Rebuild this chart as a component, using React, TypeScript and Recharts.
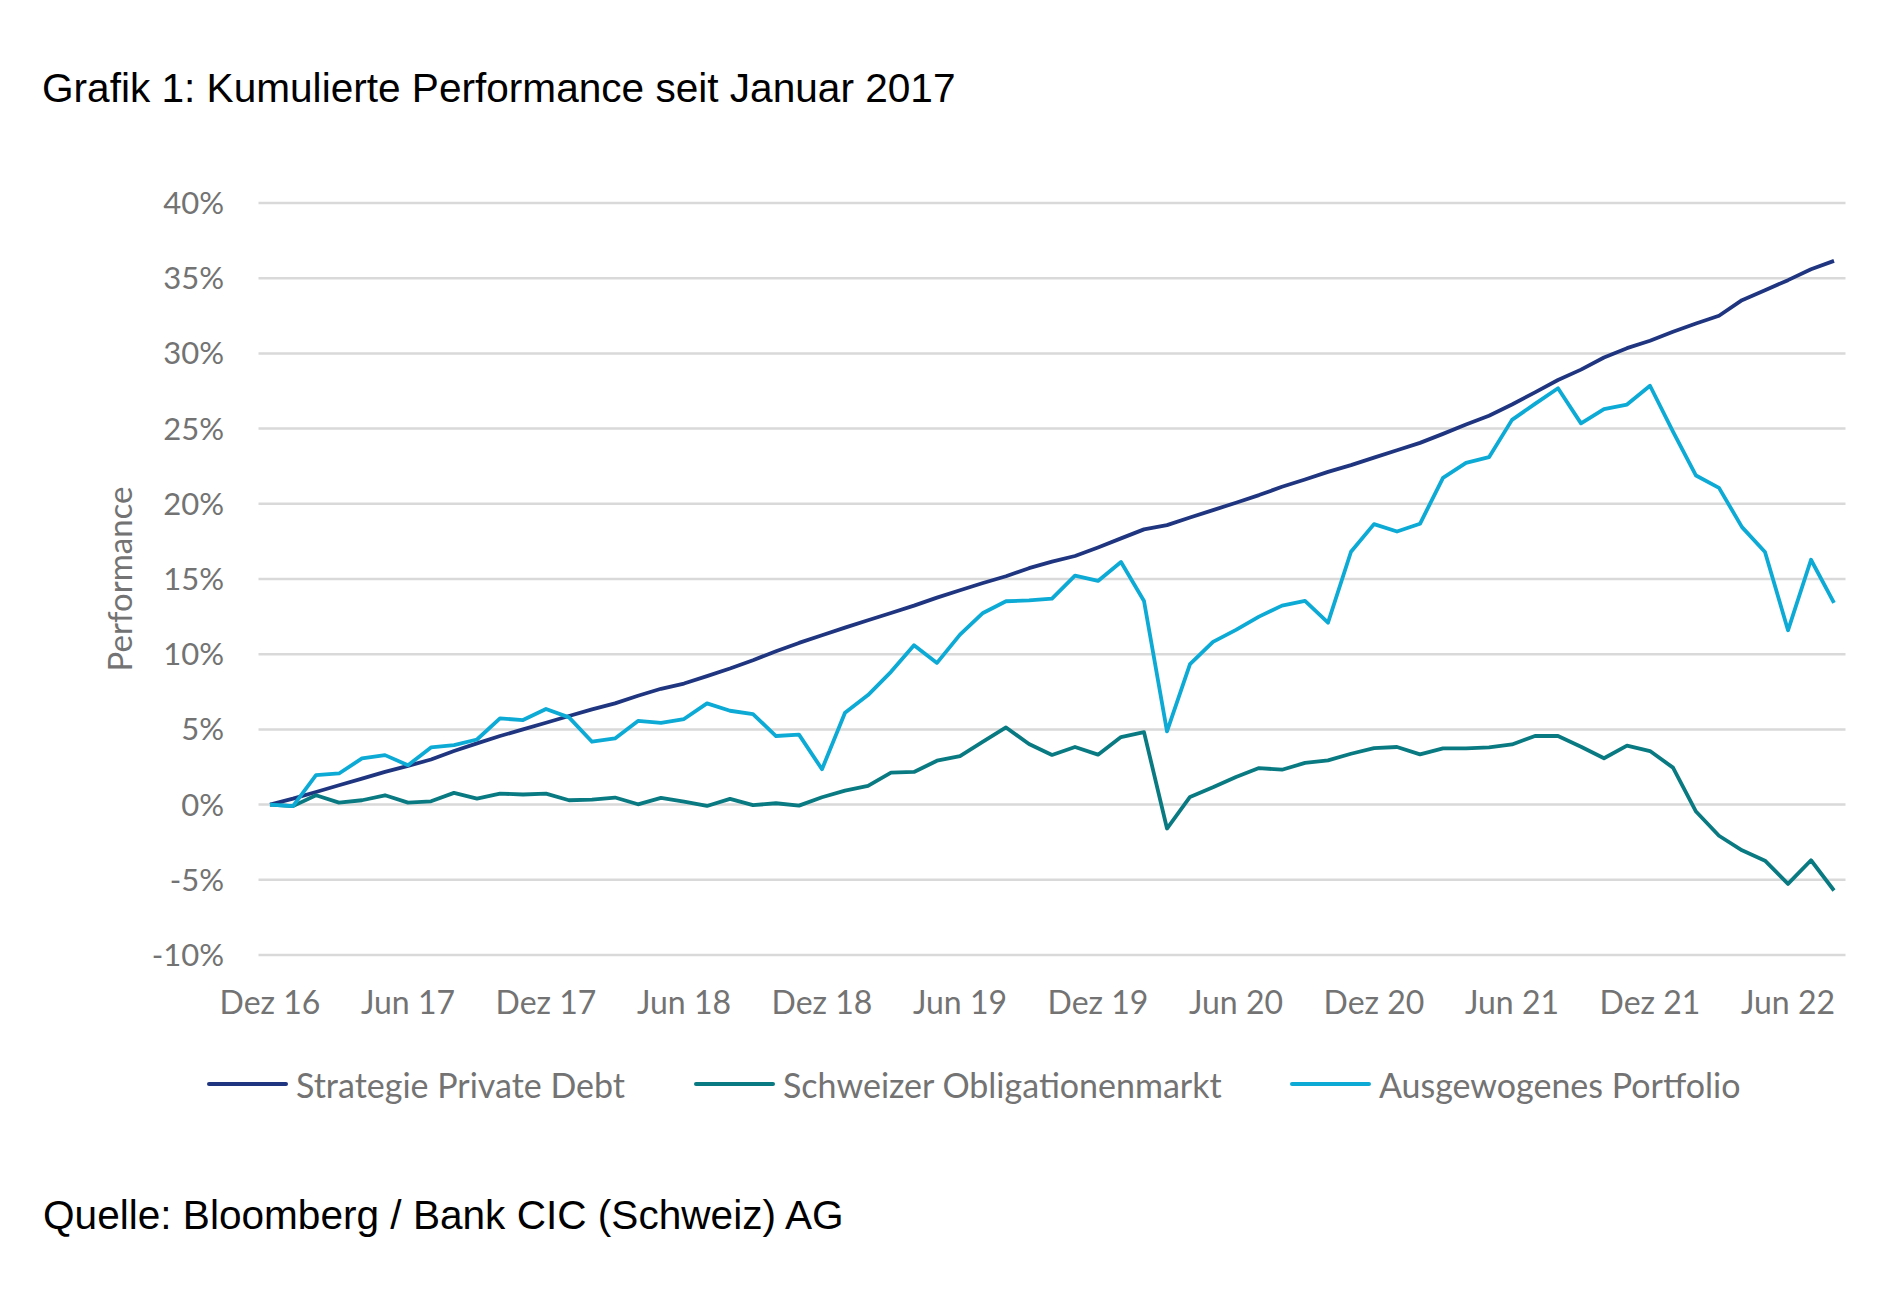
import React from "react";
import { LineChart, Line, XAxis, YAxis, CartesianGrid, Legend } from "recharts";

const TITLE = "Grafik 1: Kumulierte Performance seit Januar 2017";
const SOURCE = "Quelle: Bloomberg / Bank CIC (Schweiz) AG";
const Y_LABEL = "Performance";

const months = [
  "Dez 16",
  "Jan 17", "Feb 17", "Mär 17", "Apr 17", "Mai 17", "Jun 17", "Jul 17", "Aug 17", "Sep 17", "Okt 17", "Nov 17", "Dez 17",
  "Jan 18", "Feb 18", "Mär 18", "Apr 18", "Mai 18", "Jun 18", "Jul 18", "Aug 18", "Sep 18", "Okt 18", "Nov 18", "Dez 18",
  "Jan 19", "Feb 19", "Mär 19", "Apr 19", "Mai 19", "Jun 19", "Jul 19", "Aug 19", "Sep 19", "Okt 19", "Nov 19", "Dez 19",
  "Jan 20", "Feb 20", "Mär 20", "Apr 20", "Mai 20", "Jun 20", "Jul 20", "Aug 20", "Sep 20", "Okt 20", "Nov 20", "Dez 20",
  "Jan 21", "Feb 21", "Mär 21", "Apr 21", "Mai 21", "Jun 21", "Jul 21", "Aug 21", "Sep 21", "Okt 21", "Nov 21", "Dez 21",
  "Jan 22", "Feb 22", "Mär 22", "Apr 22", "Mai 22", "Jun 22", "Jul 22", "Aug 22",
];

const privateDebt = [
  0, 0.4, 0.84, 1.29, 1.73, 2.18, 2.58, 3.0, 3.56, 4.07,
  4.56, 5.0, 5.44, 5.89, 6.33, 6.73, 7.24, 7.7, 8.05, 8.54,
  9.05, 9.6, 10.2, 10.75, 11.26, 11.77, 12.26, 12.74, 13.23, 13.76,
  14.25, 14.73, 15.18, 15.72, 16.15, 16.53, 17.1, 17.7, 18.3, 18.58,
  19.09, 19.58, 20.07, 20.58, 21.13, 21.62, 22.12, 22.57, 23.07, 23.56,
  24.05, 24.65, 25.27, 25.86, 26.6, 27.41, 28.23, 28.92, 29.73, 30.35,
  30.84, 31.44, 31.99, 32.5, 33.54, 34.2, 34.87, 35.6, 36.15,
];

const swissBonds = [
  0, -0.1, 0.62, 0.13, 0.29, 0.62, 0.13, 0.22, 0.78, 0.4,
  0.73, 0.67, 0.73, 0.29, 0.33, 0.47, 0.02, 0.45, 0.2, -0.09,
  0.38, -0.04, 0.09, -0.07, 0.49, 0.93, 1.24, 2.12, 2.17, 2.92,
  3.23, 4.18, 5.13, 4.03, 3.3, 3.83, 3.32, 4.49, 4.82, -1.59,
  0.51, 1.15, 1.84, 2.43, 2.32, 2.77, 2.94, 3.38, 3.76, 3.83,
  3.34, 3.74, 3.74, 3.81, 4.0, 4.56, 4.56, 3.85, 3.08, 3.92,
  3.56, 2.46, -0.46, -2.07, -3.04, -3.73, -5.27, -3.7, -5.71,
];

const balanced = [
  0, -0.1, 1.96, 2.07, 3.07, 3.29, 2.62, 3.8, 3.96, 4.33,
  5.73, 5.62, 6.36, 5.8, 4.18, 4.4, 5.56, 5.44, 5.69, 6.73,
  6.24, 6.02, 4.56, 4.65, 2.35, 6.11, 7.28, 8.83, 10.6, 9.42,
  11.3, 12.74, 13.52, 13.58, 13.7, 15.22, 14.87, 16.13, 13.54, 4.87,
  9.34, 10.82, 11.62, 12.5, 13.23, 13.54, 12.1, 16.81, 18.65, 18.16,
  18.67, 21.73, 22.72, 23.1, 25.58, 26.64, 27.68, 25.35, 26.3, 26.6,
  27.85, 24.8, 21.88, 21.06, 18.45, 16.8, 11.59, 16.28, 13.41,
];

const yTicks = [-10, -5, 0, 5, 10, 15, 20, 25, 30, 35, 40];

const seriesDefs = [
  { key: "privateDebt", name: "Strategie Private Debt", color: "#1F3580" },
  { key: "swissBonds", name: "Schweizer Obligationenmarkt", color: "#0A7A82" },
  { key: "balanced", name: "Ausgewogenes Portfolio", color: "#0CAAD5" },
];

const data = months.map((m, i) => ({
  month: m,
  privateDebt: privateDebt[i],
  swissBonds: swissBonds[i],
  balanced: balanced[i],
}));

const FONT = "Lato, 'Open Sans', sans-serif";
const GRAY = "#737373";
const legendItemWidths = [487, 596, 460];

const renderLegend = () => (
  <div
    style={{
      display: "flex",
      alignItems: "center",
      fontFamily: FONT,
      fontSize: 34,
      color: GRAY,
      whiteSpace: "nowrap",
      height: 40,
    }}
  >
    {seriesDefs.map((s, idx) => (
      <div key={s.key} style={{ display: "flex", alignItems: "center", width: legendItemWidths[idx] }}>
        <div style={{ width: 81, height: 4, background: s.color, borderRadius: 2, marginRight: 8 }} />
        <span>{s.name}</span>
      </div>
    ))}
  </div>
);

const YLabel = (props: any) => {
  const vb = props.viewBox || {};
  const x = vb.x + 13;
  const y = vb.y + vb.height / 2;
  return (
    <text
      x={x}
      y={y}
      transform={`rotate(-90, ${x}, ${y})`}
      textAnchor="middle"
      fill={GRAY}
      fontFamily={FONT}
      fontSize={33}
    >
      {Y_LABEL}
    </text>
  );
};

export default function App() {
  return (
    <div
      style={{
        position: "relative",
        width: 1890,
        height: 1300,
        margin: -8,
        background: "#ffffff",
        overflow: "hidden",
      }}
    >
      <div
        style={{
          position: "absolute",
          left: 42,
          top: 68,
          fontFamily: "'Liberation Sans', Arial, sans-serif",
          fontSize: 40.6,
          lineHeight: 1,
          color: "#000",
          whiteSpace: "nowrap",
        }}
      >
        {TITLE}
      </div>
      <div style={{ position: "absolute", left: 0, top: 0 }}>
        <LineChart
          width={1890}
          height={1300}
          data={data}
          margin={{ top: 203, right: 44.5, bottom: 285, left: 118.5 }}
        >
          <CartesianGrid vertical={false} stroke="#D9D9D9" strokeWidth={2.5} />
          <XAxis
            dataKey="month"
            interval={5}
            axisLine={false}
            tickLine={false}
            tickSize={0}
            tickMargin={36}
            height={60}
            padding={{ left: 11.5, right: 11.5 }}
            tick={{ fill: GRAY, fontSize: 32, fontFamily: FONT }}
          />
          <YAxis
            domain={[-10, 40]}
            ticks={yTicks}
            width={140}
            axisLine={false}
            tickLine={false}
            tickSize={0}
            tickMargin={34.5}
            tickFormatter={(v: number) => `${v}%`}
            tick={{ fill: GRAY, fontSize: 31, fontFamily: FONT }}
            label={{ content: YLabel }}
          />
          <Legend
            layout="vertical"
            align="center"
            verticalAlign="middle"
            content={renderLegend}
            wrapperStyle={{ left: 207, top: 1064, width: 1650, height: 40 }}
          />
          {seriesDefs.map((s) => (
            <Line
              key={s.key}
              type="linear"
              dataKey={s.key}
              name={s.name}
              stroke={s.color}
              strokeWidth={3.8}
              strokeLinejoin="round"
              dot={false}
              activeDot={false}
              isAnimationActive={false}
            />
          ))}
        </LineChart>
      </div>
      <div
        style={{
          position: "absolute",
          left: 43,
          top: 1195,
          fontFamily: "'Liberation Sans', Arial, sans-serif",
          fontSize: 40.6,
          lineHeight: 1,
          color: "#000",
          whiteSpace: "nowrap",
        }}
      >
        {SOURCE}
      </div>
    </div>
  );
}
